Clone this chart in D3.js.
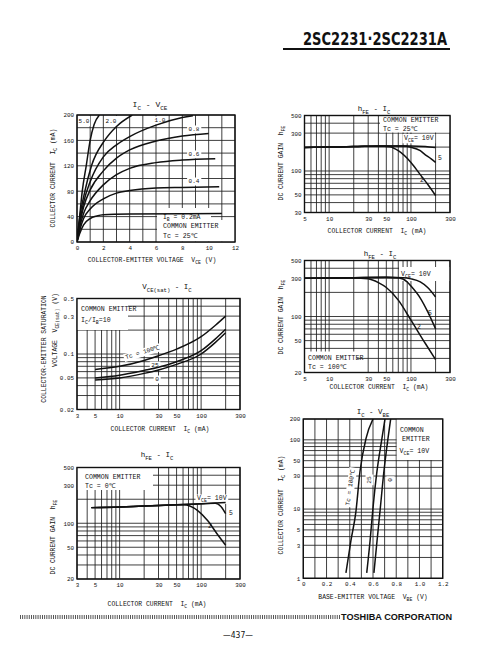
<!DOCTYPE html>
<html><head><meta charset="utf-8">
<script src="https://cdn.jsdelivr.net/npm/d3@7"></script>
<style>body{margin:0;background:#fff}text{white-space:pre}</style>
</head><body>
<svg id="c" width="485" height="660" xmlns="http://www.w3.org/2000/svg"></svg>
<script>
// ---------------- DATA ----------------
// Chart 1: Ic - Vce (Vce V, Ic mA), Ta=25
const icVceLabels = ["5.0","2.0","1.0","0.8","0.6","0.4","0.2"];
const icVce_50 = [[0,0],[0.2,40],[0.4,80],[0.7,120],[1.0,160],[1.3,185],[1.7,200]];
const icVce_20 = [[0,0],[0.15,30],[0.6,80],[1.1,120],[2.1,160],[3.0,182],[4.2,200]];
const icVce_10 = [[0,0],[0.2,30],[0.5,62],[1,95],[2,134],[3,153],[4,166],[6,184],[8,196],[8.8,199]];
const icVce_08 = [[0,0],[0.2,27],[0.5,55],[1,82],[2,112],[3,132],[4,145],[6,159],[8,167],[10,171]];
const icVce_06 = [[0,0],[0.2,23],[0.5,45],[1,65],[2,90],[3,106],[4,116],[6,125],[8,129],[10.5,131]];
const icVce_04 = [[0,0],[0.2,18],[0.5,37],[1,52],[2,68],[3,77],[4,81],[6,85],[8,86],[10.8,87]];
const icVce_02 = [[0,0],[0.2,13],[0.5,27],[1,37],[1.5,41],[2,43],[4,44],[8,44.5],[11,45]];
const icVceXTicks = [0,2,4,6,8,10,12];
const icVceYTicks = [0,40,80,120,160,200];

// Chart 2: hFE - Ic, Tc=25
const hfe25_10 = [[5,198],[10,200],[20,203],[50,207],[100,207],[150,204],[200,197]];
const hfe25_5  = [[5,198],[10,200],[20,203],[50,207],[80,206],[100,199],[130,180],[150,160],[175,143],[200,128]];
const hfe25_2  = [[5,198],[10,200],[20,203],[40,206],[55,202],[70,180],[100,128],[130,90],[160,68],[200,49]];

// Chart 3: Vce(sat) - Ic
const vsat_100 = [[5,0.064],[10,0.07],[20,0.083],[30,0.095],[50,0.115],[100,0.165],[150,0.23],[200,0.3]];
const vsat_25  = [[5,0.05],[10,0.054],[20,0.062],[30,0.068],[50,0.08],[100,0.11],[150,0.155],[200,0.205]];
const vsat_0   = [[5,0.047],[10,0.05],[20,0.057],[30,0.063],[50,0.074],[100,0.1],[150,0.14],[200,0.185]];

// Chart 4: hFE - Ic, Tc=100
const hfe100_10 = [[5,300],[20,305],[50,308],[80,305],[100,295],[130,270],[160,230],[200,175]];
const hfe100_5  = [[5,300],[20,305],[50,308],[70,304],[90,270],[100,240],[130,170],[160,115],[200,70]];
const hfe100_2  = [[5,300],[20,303],[30,296],[40,265],[50,230],[70,160],[100,90],[150,46],[200,29]];

// Chart 5: hFE - Ic, Tc=0
const hfe0_10 = [[4.5,157],[10,160],[20,165],[50,170],[100,175],[200,182]];
const hfe0_5  = [[4.5,157],[10,160],[20,165],[50,170],[100,175],[150,178],[175,162],[200,132]];
const hfe0_2  = [[4.5,157],[10,160],[20,165],[50,170],[62,171],[90,145],[120,108],[155,75],[200,53]];

// Chart 6: Ic - Vbe
const icVbe_100 = [[0.367,1.2],[0.41,3.5],[0.453,9.2],[0.488,35],[0.54,105],[0.60,200]];
const icVbe_25  = [[0.546,1.2],[0.575,3.5],[0.597,9.2],[0.634,35],[0.677,105],[0.703,200]];
const icVbe_0   = [[0.608,1.2],[0.635,3.5],[0.66,9.2],[0.694,35],[0.729,105],[0.752,200]];

// tick labels
const logGrid = (a,b)=>{const r=[];for(let d=1e-3;d<1e4;d*=10)for(let k=1;k<10;k++){const v=+(k*d).toPrecision(3);if(v>=a-1e-9&&v<=b+1e-9)r.push(v);}return r;};
const ticks3to300 = [3,5,10,30,50,100,300];
const ticks5to300 = [5,10,30,50,100,300];

// ---------------- DRAW ----------------
const svg = d3.select("#c");
svg.append("rect").attr("width",485).attr("height",660).attr("fill","#fff");
const FONT = "'Liberation Mono','DejaVu Sans Mono',monospace";
const INK = "#111";

function rich(g, str, x, y, o={}) {
  const sz = o.size||6.4;
  const t = g.append("text").attr("x",x).attr("y",y)
    .attr("font-family",FONT).attr("font-size",sz)
    .attr("text-anchor",o.anchor||"middle").attr("fill",INK);
  if (o.rotate!=null) t.attr("transform",`rotate(${o.rotate},${x},${y})`);
  const parts = str.split(/(_\{[^}]*\})/).filter(s=>s.length);
  let shifted=false;
  parts.forEach(p=>{
    const m = p.match(/^_\{(.*)\}$/);
    if (m) { t.append("tspan").attr("dy", shifted?0:sz*0.35).attr("font-size",sz*0.75).text(m[1]); shifted=true; }
    else { const ts=t.append("tspan").text(p); if(shifted){ts.attr("dy",-sz*0.35); shifted=false;} }
  });
  return t;
}

function panel(p) {
  const g = svg.append("g");
  const gGrid=g.append("g"), gBg=g.append("g"), gCurve=g.append("g"), gFrame=g.append("g"), gText=g.append("g");
  const [xa,xb]=p.x.range(), [ya,yb]=p.y.range();
  gGrid.selectAll("line.v").data(p.xGrid).join("line")
    .attr("x1",d=>p.x(d)).attr("x2",d=>p.x(d)).attr("y1",ya).attr("y2",yb)
    .attr("stroke","#1e1e1e").attr("stroke-width",0.85);
  gGrid.selectAll("line.h").data(p.yGrid).join("line")
    .attr("y1",d=>p.y(d)).attr("y2",d=>p.y(d)).attr("x1",xa).attr("x2",xb)
    .attr("stroke","#1e1e1e").attr("stroke-width",0.85);
  (p.boxes||[]).forEach(b=>gBg.append("rect").attr("x",b[0]).attr("y",b[1]).attr("width",b[2]-b[0]).attr("height",b[3]-b[1]).attr("fill","#fff"));
  const clipId="clip"+Math.random().toString(36).slice(2);
  g.append("clipPath").attr("id",clipId).append("rect").attr("x",xa).attr("y",yb).attr("width",xb-xa).attr("height",ya-yb);
  const line=d3.line().x(d=>p.x(d[0])).y(d=>p.y(d[1])).curve(d3.curveMonotoneX);
  gCurve.attr("clip-path",`url(#${clipId})`);
  p.curves.forEach(c=>gCurve.append("path").attr("d",line(c)).attr("fill","none").attr("stroke",INK).attr("stroke-width",1.5));
  gFrame.append("rect").attr("x",xa).attr("y",yb).attr("width",xb-xa).attr("height",ya-yb)
    .attr("fill","none").attr("stroke",INK).attr("stroke-width",1.4);
  // axes
  const ax=gText.append("g").attr("transform",`translate(0,${ya})`)
    .call(d3.axisBottom(p.x).tickValues(p.xTicks).tickFormat(p.xFmt||(d=>d)).tickSize(0).tickPadding(p.xPad||4));
  const ay=gText.append("g").attr("transform",`translate(${xa},0)`)
    .call(d3.axisLeft(p.y).tickValues(p.yTicks).tickFormat(p.yFmt||(d=>d)).tickSize(0).tickPadding(3));
  [ax,ay].forEach(a=>{a.select(".domain").remove();a.selectAll("text").attr("font-family",FONT).attr("font-size",5.9).attr("fill",INK);});
  // texts
  (p.texts||[]).forEach(t=>{
    const el=rich(gText,t.s,t.x,t.y,t);
    if(t.bg){const bb=el.node().getBBox();
      const r=gBg.append("rect").attr("x",bb.x-1.5).attr("y",bb.y-0.5).attr("width",bb.width+3).attr("height",bb.height+1).attr("fill","#fff");
      if(t.rotate!=null) r.attr("transform",`rotate(${t.rotate},${t.x},${t.y})`);}
  });
}

// Header
svg.append("text").attr("x",303).attr("y",45).attr("font-family","'Liberation Sans Narrow','DejaVu Sans Condensed','Liberation Sans',sans-serif")
  .attr("font-weight","bold").attr("font-size",17).attr("textLength",144).attr("lengthAdjust","spacingAndGlyphs")
  .attr("fill",INK).text("2SC2231·2SC2231A");
svg.append("line").attr("x1",283).attr("x2",450).attr("y1",49).attr("y2",49).attr("stroke",INK).attr("stroke-width",2);

// Chart 1
panel({
  x:d3.scaleLinear().domain([0,12]).range([77,235]),
  y:d3.scaleLinear().domain([0,200]).range([242,115]),
  xGrid:d3.range(0,13,1), yGrid:d3.range(0,201,20),
  xTicks:icVceXTicks, yTicks:icVceYTicks,
  curves:[icVce_50,icVce_20,icVce_10,icVce_08,icVce_06,icVce_04,icVce_02],
  boxes:[[157,220,235,241.5],[157,208,211,221],[79,116,90,126],[106,116,117,126]],
  texts:[
    {s:"I_{C} - V_{CE}",x:150,y:107,size:8},
    {s:"COLLECTOR-EMITTER VOLTAGE  V_{CE} (V)",x:152,y:262,size:6.4},
    {s:"COLLECTOR CURRENT  I_{C} (mA)",x:55,y:178,size:6.4,rotate:-90},
    {s:icVceLabels[0],x:84,y:123,size:6},
    {s:icVceLabels[1],x:111,y:123,size:6},
    {s:icVceLabels[2],x:160,y:122,size:6,bg:true},
    {s:icVceLabels[3],x:194,y:131,size:6,bg:true},
    {s:icVceLabels[4],x:194,y:156,size:6,bg:true},
    {s:icVceLabels[5],x:194,y:183,size:6,bg:true},
    {s:"I_{B} = "+icVceLabels[6]+"mA",x:163,y:219,size:6.4,anchor:"start"},
    {s:"COMMON EMITTER",x:163,y:228,size:6.6,anchor:"start"},
    {s:"Tc = 25℃",x:163,y:238,size:6.6,anchor:"start"}
  ]
});

// Chart 2
panel({
  x:d3.scaleLog().domain([5,300]).range([304.5,450]),
  y:d3.scaleLog().domain([30,500]).range([212.5,115.5]),
  xGrid:logGrid(5,300), yGrid:logGrid(30,500),
  xTicks:ticks5to300, yTicks:[30,50,100,300,500],
  curves:[hfe25_10,hfe25_5,hfe25_2],
  boxes:[[380,115.5,450,132.5]],
  texts:[
    {s:"h_{FE} - I_{C}",x:374,y:111,size:7.5},
    {s:"COLLECTOR CURRENT  I_{C} (mA)",x:377,y:233,size:6.4},
    {s:"DC CURRENT GAIN  h_{FE}",x:283,y:163,size:6.4,rotate:-90},
    {s:"COMMON EMITTER",x:383,y:122,size:6.6,anchor:"start"},
    {s:"Tc = 25℃",x:383,y:130.5,size:6.6,anchor:"start"},
    {s:"V_{CE}= 10V",x:404,y:139.5,size:6.6,anchor:"start",bg:true},
    {s:"5",x:440,y:160,size:6.4},
    {s:"2",x:422,y:182,size:6.4}
  ]
});

// Chart 3
panel({
  x:d3.scaleLog().domain([3,300]).range([77,240]),
  y:d3.scaleLog().domain([0.02,0.5]).range([409.5,298.5]),
  xGrid:logGrid(3,300), yGrid:logGrid(0.02,0.5),
  xTicks:ticks3to300, yTicks:[0.02,0.05,0.1,0.3,0.5],
  curves:[vsat_100,vsat_25,vsat_0],
  boxes:[[77,298.5,128,330]],
  texts:[
    {s:"V_{CE(sat)} - I_{C}",x:167,y:289,size:7.5},
    {s:"COLLECTOR CURRENT  I_{C} (mA)",x:160,y:431,size:6.4},
    {s:"COLLECTOR-EMITTER SATURATION",x:46,y:349,size:6.4,rotate:-90},
    {s:"VOLTAGE  V_{CE(sat)} (V)",x:57,y:330,size:6.4,rotate:-90},
    {s:"COMMON EMITTER",x:81,y:310.5,size:6.6,anchor:"start"},
    {s:"I_{C}/I_{B}=10",x:81,y:321.5,size:6.6,anchor:"start"},
    {s:"Tc = 100℃",x:143,y:354,size:6.2,rotate:-17,bg:true},
    {s:"25",x:155,y:367,size:6.2,bg:true},
    {s:"0",x:157,y:381,size:6.2,bg:true}
  ]
});

// Chart 4
panel({
  x:d3.scaleLog().domain([5,300]).range([304.5,450]),
  y:d3.scaleLog().domain([20,500]).range([372.5,260.5]),
  xGrid:logGrid(5,300), yGrid:logGrid(20,500),
  xTicks:ticks5to300, yTicks:[20,50,100,300,500],
  curves:[hfe100_10,hfe100_5,hfe100_2],
  boxes:[[304.5,351.5,357,372.5],[399,267,450,281]],
  texts:[
    {s:"h_{FE} - I_{C}",x:380,y:256,size:7.5},
    {s:"COLLECTOR CURRENT  I_{C} (mA)",x:379,y:389,size:6.4},
    {s:"DC CURRENT GAIN  h_{FE}",x:283,y:317,size:6.4,rotate:-90},
    {s:"V_{CE}= 10V",x:401,y:276,size:6.6,anchor:"start"},
    {s:"5",x:430,y:315,size:6.4},
    {s:"2",x:419,y:329,size:6.4},
    {s:"COMMON EMITTER",x:308,y:360,size:6.6,anchor:"start"},
    {s:"Tc = 100℃",x:308,y:369,size:6.6,anchor:"start"}
  ]
});

// Chart 5
panel({
  x:d3.scaleLog().domain([3,300]).range([77,240]),
  y:d3.scaleLog().domain([20,500]).range([579,467.5]),
  xGrid:logGrid(3,300), yGrid:logGrid(20,500),
  xTicks:ticks3to300, yTicks:[20,50,100,300,500],
  curves:[hfe0_10,hfe0_5,hfe0_2],
  boxes:[[77,467.5,153,490]],
  texts:[
    {s:"h_{FE} - I_{C}",x:157,y:457,size:7.5},
    {s:"COLLECTOR CURRENT  I_{C} (mA)",x:157,y:606,size:6.4},
    {s:"DC CURRENT GAIN  h_{FE}",x:55,y:537,size:6.4,rotate:-90},
    {s:"COMMON EMITTER",x:85,y:479,size:6.6,anchor:"start"},
    {s:"Tc = 0℃",x:85,y:488,size:6.6,anchor:"start"},
    {s:"V_{CE}= 10V",x:197,y:500,size:6.6,anchor:"start",bg:true},
    {s:"5",x:231,y:515,size:6.4},
    {s:"2",x:210,y:528,size:6.4}
  ]
});

// Chart 6
panel({
  x:d3.scaleLinear().domain([0,1.2]).range([303.3,442.7]),
  y:d3.scaleLog().domain([1,200]).range([578.3,419]),
  xGrid:d3.range(0,1.21,0.1), yGrid:logGrid(1,200),
  xTicks:[0,0.2,0.4,0.6,0.8,1.0,1.2], xFmt:d=>d===0?"0":d.toFixed(1),
  yTicks:[1,3,5,10,30,50,100,200],
  curves:[icVbe_100,icVbe_25,icVbe_0],
  boxes:[[396.7,419,442.7,460]],
  texts:[
    {s:"I_{C} - V_{BE}",x:373,y:414,size:7.5},
    {s:"BASE-EMITTER VOLTAGE  V_{BE} (V)",x:373,y:599,size:6.4},
    {s:"COLLECTOR CURRENT  I_{C} (mA)",x:283,y:505,size:6.4,rotate:-90},
    {s:"COMMON",x:400,y:432,size:6.6,anchor:"start"},
    {s:"EMITTER",x:402,y:441,size:6.6,anchor:"start"},
    {s:"V_{CE}= 10V",x:399.5,y:453,size:6.6,anchor:"start"},
    {s:"Tc = 100℃",x:352,y:488,size:6.2,rotate:-82,bg:true},
    {s:"25",x:371,y:480,size:6.2,rotate:-90,bg:true},
    {s:"0",x:392,y:480,size:6.2,rotate:-90,bg:true}
  ]
});

// Footer
svg.append("line").attr("x1",20).attr("x2",340).attr("y1",617).attr("y2",617)
  .attr("stroke","#444").attr("stroke-width",4).attr("stroke-dasharray","0.9 1.3");
svg.append("text").attr("x",341).attr("y",620).attr("font-family","'Liberation Sans','DejaVu Sans',sans-serif")
  .attr("font-weight","bold").attr("font-size",8.5).attr("textLength",111).attr("lengthAdjust","spacingAndGlyphs")
  .attr("fill",INK).text("TOSHIBA CORPORATION");
svg.append("text").attr("x",238).attr("y",638).attr("text-anchor","middle").attr("font-family","'Liberation Sans Narrow','DejaVu Sans Condensed',sans-serif")
  .attr("font-size",8.5).attr("fill",INK).text("—437—");
</script>
</body></html>
